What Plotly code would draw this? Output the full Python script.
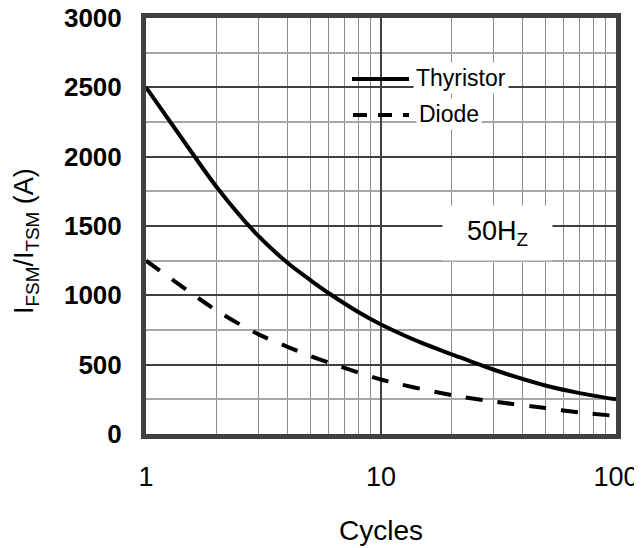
import plotly.graph_objects as go

# Data
thy_cycles = [1, 1.5, 2, 3, 4, 5, 6, 8, 10, 15, 20, 30, 50, 70, 100]
thy_current = [2500, 2075, 1780, 1430, 1235, 1110, 1015, 880, 790, 655, 575, 465, 350, 295, 250]

dio_cycles = [1, 2, 3, 4, 5, 6, 10, 20, 30, 50, 70, 100]
dio_current = [1250, 890, 720, 629, 562, 515, 393, 280, 235, 187, 155, 130]

y_ticks = [0, 500, 1000, 1500, 2000, 2500, 3000]
x_ticks = [1, 10, 100]

FONT = "Liberation Sans, Arial, sans-serif"

# page offset of the figure (body margin)
OFF = 8
# plot area in page pixels
PX0, PX1, PY0, PY1 = 146, 616, 18, 434
W, H = 642 - OFF, 548 - OFF
L, T = PX0 - OFF, PY0 - OFF
R, B = W - (PX1 - OFF), H - (PY1 - OFF)
PW, PH = PX1 - PX0, PY1 - PY0


def px(x):
    return (x - PX0) / PW


def py(y):
    return (PY1 - y) / PH


fig = go.Figure()
fig.add_trace(go.Scatter(x=thy_cycles, y=thy_current, mode="lines", name="Thyristor",
                         line=dict(color="black", width=4, shape="spline", smoothing=0.8),
                         showlegend=False))
fig.add_trace(go.Scatter(x=dio_cycles, y=dio_current, mode="lines", name="Diode",
                         line=dict(color="black", width=4, dash="17px,15px", shape="spline", smoothing=0.8),
                         showlegend=False))

# legend samples
fig.add_shape(type="line", xref="paper", yref="paper", x0=px(352), x1=px(409),
              y0=py(79), y1=py(79), line=dict(color="black", width=4))
fig.add_shape(type="line", xref="paper", yref="paper", x0=px(353), x1=px(409),
              y0=py(115), y1=py(115), line=dict(color="black", width=4, dash="14px,11px"))
fig.add_annotation(xref="paper", yref="paper", x=px(413), y=py(78), xanchor="left",
                   yanchor="middle", text="Thyristor", showarrow=False, bgcolor="white",
                   font=dict(family=FONT, size=23, color="black"), borderpad=2)
fig.add_annotation(xref="paper", yref="paper", x=px(416), y=py(114), xanchor="left",
                   yanchor="middle", text="Diode", showarrow=False, bgcolor="white",
                   font=dict(family=FONT, size=23, color="black"), borderpad=2)
fig.add_annotation(xref="paper", yref="paper", x=px(497), y=py(233), xanchor="center",
                   yanchor="middle", text="50H<sub>Z</sub>", showarrow=False, bgcolor="white",
                   width=105, height=50,
                   font=dict(family=FONT, size=27, color="black"), borderpad=2)

# axis titles
fig.add_annotation(xref="paper", yref="paper", x=px(26), y=py(241), xanchor="center",
                   yanchor="middle", textangle=-90, showarrow=False,
                   text="I<sub>FSM</sub>/I<sub>TSM</sub> (A)",
                   font=dict(family=FONT, size=27, color="black"))
fig.add_annotation(xref="paper", yref="paper", x=px(381), y=py(530), xanchor="center",
                   yanchor="middle", showarrow=False, text="Cycles",
                   font=dict(family=FONT, size=28, color="black"))

fig.update_layout(
    width=W, height=H,
    margin=dict(l=L, r=R, t=T, b=B),
    paper_bgcolor="white", plot_bgcolor="white",
    font=dict(family=FONT, color="black"),
    xaxis=dict(type="log", range=[0, 2], tickvals=x_ticks, ticktext=[str(v) for v in x_ticks],
               showgrid=True, gridcolor="#404040", gridwidth=2,
               minor=dict(dtick="D1", showgrid=True, gridcolor="#8c8c8c", gridwidth=1, ticks=""),
               showline=True, linecolor="#404040", linewidth=5, mirror=True,
               ticks="", ticklabelstandoff=15, tickfont=dict(size=27, family=FONT),
               ticklabeloverflow="allow",
               automargin=False, zeroline=False),
    yaxis=dict(range=[0, 3000], tickvals=y_ticks, showgrid=True, gridcolor="#404040", gridwidth=2,
               minor=dict(dtick=250, showgrid=True, gridcolor="#a6a6a6", gridwidth=1.5, ticks=""),
               showline=True, linecolor="#404040", linewidth=5, mirror=True,
               ticks="", ticklabelstandoff=14, tickfont=dict(size=26, family=FONT, weight="bold"),
               ticklabeloverflow="allow",
               automargin=False, zeroline=False),
)

fig.write_html("out.html")
